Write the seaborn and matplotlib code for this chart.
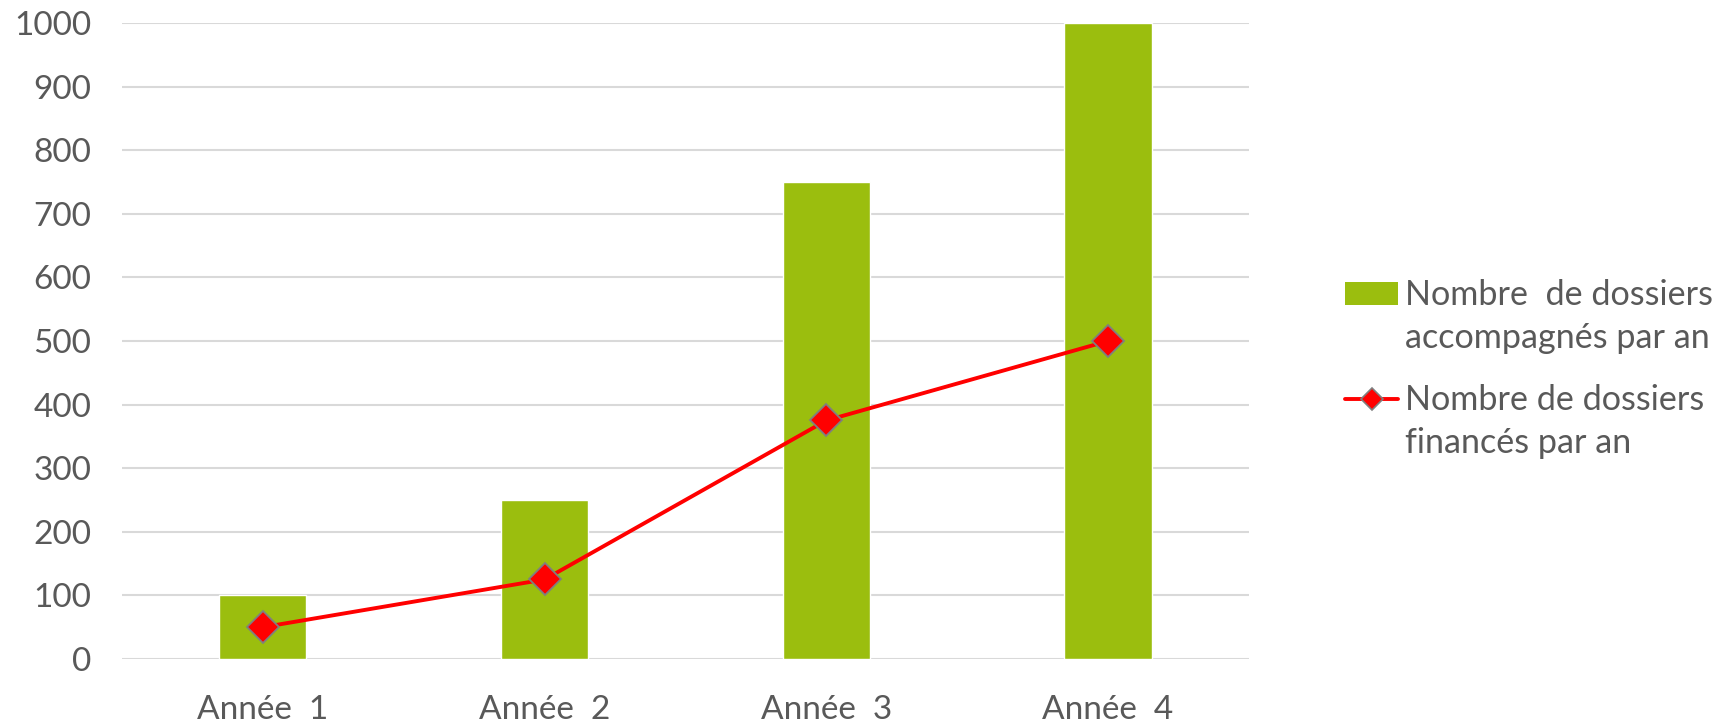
import matplotlib
matplotlib.use("Agg")
import matplotlib.pyplot as plt
import seaborn as sns
import pandas as pd
from matplotlib.patches import Patch
from matplotlib.lines import Line2D
from matplotlib.transforms import Affine2D
from matplotlib.legend_handler import HandlerPatch, HandlerLine2D

# Chart data
annees = ["Année  1", "Année  2", "Année  3", "Année  4"]
dossiers_accompagnes = [100, 250, 750, 1000]
dossiers_finances = [50, 125, 375, 500]
label_accompagnes = "Nombre  de dossiers\naccompagnés par an"
label_finances = "Nombre de dossiers\nfinancés par an"

BAR_COLOR = "#9BBE0E"
LINE_COLOR = "#FF0000"
EDGE_COLOR = "#7F7F7F"
TEXT_COLOR = "#595959"
GRID_COLOR = "#D9D9D9"
FONT_SIZE = 24
LEGEND_SIZE = 24.6
LINE_SPACING = 1.42

sns.set_theme(style="white")
plt.rcParams["font.family"] = ["Lato", "DejaVu Sans"]

df = pd.DataFrame({"annee": annees,
                   "accompagnes": dossiers_accompagnes,
                   "finances": dossiers_finances})

fig = plt.figure(figsize=(17.25, 7.24), dpi=100)
ax = fig.add_axes([0.0707, 0.0898, 0.6533, 0.8784])

sns.barplot(data=df, x="annee", y="accompagnes", color=BAR_COLOR,
            saturation=1, width=0.31, ax=ax, zorder=2)
sns.pointplot(data=df, x="annee", y="finances", color=LINE_COLOR,
              markers="D", linestyles="-", ax=ax, zorder=3,
              markersize=16, linewidth=2.8,
              markeredgecolor=EDGE_COLOR, markeredgewidth=1.3)

ax.set_xlim(-0.5, 3.5)
ax.set_ylim(0, 1000)
ax.set_yticks(range(0, 1001, 100))
ax.yaxis.grid(True, color=GRID_COLOR, linewidth=1.5, zorder=0)
ax.set_axisbelow(True)
for s in ax.spines.values():
    s.set_visible(False)
ax.set_xlabel("")
ax.set_ylabel("")
ax.tick_params(axis="both", length=0, labelsize=FONT_SIZE, colors=TEXT_COLOR)
ax.tick_params(axis="y", pad=22)
ax.tick_params(axis="x", pad=26)


# Legend handlers that sit beside the first line of a two-line label
SHIFT = 0.5 * LINE_SPACING * LEGEND_SIZE


class TopPatchHandler(HandlerPatch):
    def create_artists(self, legend, orig_handle, xdescent, ydescent,
                       width, height, fontsize, trans):
        return super().create_artists(legend, orig_handle, xdescent, ydescent,
                                      width, height, fontsize,
                                      Affine2D().translate(0, SHIFT) + trans)


class TopLineHandler(HandlerLine2D):
    def create_artists(self, legend, orig_handle, xdescent, ydescent,
                       width, height, fontsize, trans):
        return super().create_artists(legend, orig_handle, xdescent, ydescent,
                                      width, height, fontsize,
                                      Affine2D().translate(0, SHIFT) + trans)


bar_handle = Patch(facecolor=BAR_COLOR, edgecolor="none")
line_handle = Line2D([0], [0], color=LINE_COLOR, linewidth=2.8, marker="D",
                     markersize=11, markerfacecolor=LINE_COLOR,
                     markeredgecolor=EDGE_COLOR, markeredgewidth=1.2)
leg = fig.legend([bar_handle, line_handle], [label_accompagnes, label_finances],
                 loc="center left", bbox_to_anchor=(0.762, 0.49),
                 frameon=False, fontsize=LEGEND_SIZE, handlelength=1.55,
                 handletextpad=0.2, labelspacing=0.88,
                 labelcolor=TEXT_COLOR,
                 handler_map={Patch: TopPatchHandler(),
                              Line2D: TopLineHandler()})
for t in leg.get_texts():
    t.set_linespacing(LINE_SPACING)

fig.savefig("out.png", dpi=100)
